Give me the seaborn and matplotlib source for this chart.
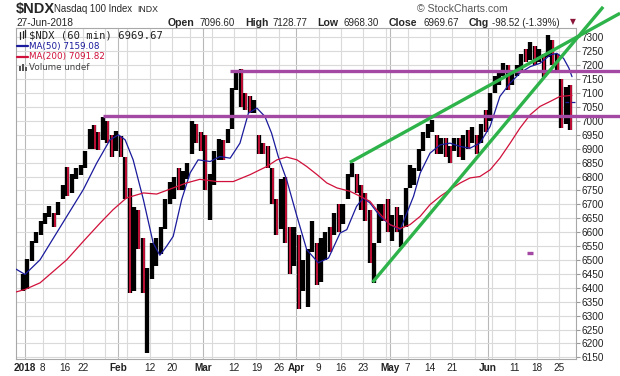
import numpy as np
import pandas as pd
import seaborn as sns
import matplotlib.pyplot as plt
from matplotlib.lines import Line2D
from matplotlib.patches import Rectangle

# ---- data (one entry per trading day, Dec 29 2017 .. Jun 27 2018) ----
holidays = ['2018-01-15', '2018-02-19', '2018-03-30', '2018-05-28']
trade_days = [pd.Timestamp('2017-12-29')] + [d for d in pd.bdate_range('2018-01-02', '2018-06-27')
                                             if d.strftime('%Y-%m-%d') not in holidays]

day_low = [
    6390,
    # Jan
    6395, 6495, 6560, 6590, 6630, 6655, 6620, 6660, 6720, 6730, 6740, 6790, 6805, 6830, 6900,
    6900, 6895, 6930, 6920, 6870, 6890,
    # Feb
    6870, 6720, 6380, 6390, 6540, 6380, 6167, 6430, 6480, 6520, 6610, 6700, 6720, 6750, 6750,
    6790, 6880, 6920, 6890,
    # Mar
    6750, 6645, 6770, 6860, 6860, 6920, 6970, 7110, 7050, 7040, 7030, 7030, 6880, 6880, 6830,
    6700, 6590, 6610, 6560, 6450, 6480,
    # Apr
    6322, 6390, 6330, 6530, 6410, 6420, 6500, 6530, 6590, 6600, 6630, 6720, 6800, 6740, 6680,
    6640, 6490, 6418, 6560, 6640, 6600,
    # May
    6570, 6600, 6548, 6620, 6760, 6770, 6820, 6890, 6940, 6960, 6880, 6880, 6870, 6850, 6890,
    6870, 6860, 6900, 6920, 6880, 6920, 6960,
    # Jun
    7000, 7100, 7130, 7160, 7110, 7130, 7160, 7180, 7210, 7220, 7200, 7210, 7158, 7230, 7200,
    7180, 6975, 6990, 6968,
]
day_high = [
    6450,
    6505, 6570, 6600, 6640, 6670, 6695, 6670, 6710, 6770, 6835, 6810, 6830, 6840, 6890, 6970,
    6985, 6960, 7015, 7000, 6950, 6965,
    6945, 6870, 6760, 6690, 6680, 6580, 6470, 6560, 6580, 6620, 6720, 6780, 6800, 6830, 6820,
    6850, 6998, 6990, 6960,
    6950, 6810, 6890, 6935, 6930, 6970, 7120, 7180, 7185, 7100, 7090, 7075, 6950, 6920, 6910,
    6830, 6720, 6790, 6800, 6620, 6620,
    6590, 6500, 6540, 6640, 6560, 6580, 6600, 6620, 6670, 6700, 6700, 6810, 6850, 6810, 6770,
    6740, 6680, 6560, 6700, 6700, 6720,
    6660, 6690, 6660, 6760, 6840, 6830, 6900, 6960, 6990, 7004, 6950, 6940, 6940, 6910, 6940,
    6940, 6950, 6968, 6979, 6950, 6990, 7040,
    7100, 7160, 7180, 7208, 7200, 7180, 7200, 7240, 7260, 7285, 7270, 7260, 7240, 7309, 7290,
    7240, 7150, 7123, 7129,
]
day_close = [
    6400,
    6500, 6565, 6585, 6635, 6665, 6680, 6650, 6705, 6765, 6745, 6805, 6815, 6835, 6885, 6955,
    6930, 6925, 7010, 6940, 6900, 6930,
    6900, 6740, 6400, 6640, 6560, 6390, 6420, 6510, 6570, 6615, 6715, 6730, 6760, 6755, 6770,
    6845, 6990, 6930, 6895,
    6770, 6800, 6880, 6920, 6910, 6960, 7115, 7150, 7070, 7050, 7045, 7050, 6905, 6900, 6860,
    6710, 6600, 6780, 6580, 6500, 6580,
    6400, 6470, 6530, 6590, 6430, 6450, 6580, 6550, 6650, 6620, 6690, 6800, 6820, 6760, 6690,
    6650, 6510, 6530, 6680, 6670, 6610,
    6650, 6610, 6640, 6750, 6800, 6810, 6890, 6955, 6970, 6975, 6900, 6930, 6900, 6870, 6920,
    6890, 6945, 6940, 6950, 6900, 6985, 6970,
    7090, 7150, 7170, 7200, 7140, 7170, 7185, 7230, 7220, 7275, 7250, 7250, 7220, 7280, 7220,
    7190, 7000, 7068, 6970,
]

# moving averages (position in trading days from Jan 2, value)
ma50_pos = [-2.0, 0, 3.4, 9.4, 13.1, 16.1, 19.1, 21, 22.5, 24.3, 26.6, 28.8, 30.3, 31.8, 33.3,
            35.2, 37.1, 38.9, 41.6, 43.8, 46.1, 48.3, 50.2, 52.1, 53.9, 55.4, 56.9, 58.8, 61.1,
            63.3, 65.9, 68.2, 70.8, 72.3, 74.5, 76, 77.5, 79.8, 82, 84.3, 85.8, 87.3, 88.8, 91,
            93.3, 95.5, 97.8, 100, 102.2, 104.5, 106.7, 109, 111.2, 113.5, 115.7, 118, 119.5,
            121, 122.2, 122.9]
ma50_val = [6467, 6448, 6501, 6657, 6753, 6848, 6932, 6950, 6932, 6860, 6717, 6561, 6517, 6549,
            6585, 6717, 6813, 6860, 6854, 6872, 6866, 6920, 7028, 7046, 7016, 6956, 6872, 6788,
            6657, 6537, 6490, 6507, 6597, 6609, 6693, 6723, 6705, 6657, 6627, 6609, 6669, 6729,
            6813, 6884, 6914, 6920, 6908, 6902, 6920, 6980, 7088, 7136, 7172, 7195, 7207, 7237,
            7243, 7225, 7190, 7159]
ma200_pos = [-2.0, 0, 3.4, 9.4, 13.1, 16.9, 19.8, 22.8, 26.6, 29.6, 33.3, 36.3, 39.3, 43.1, 46.8,
             50.6, 54.3, 56.6, 58.8, 61.1, 63.3, 65.6, 67.8, 70.1, 73, 75.3, 77.5, 79.8, 82, 84.3,
             86.5, 88.8, 91, 93.3, 95.5, 97.8, 100, 102.2, 104.5, 106.7, 109, 111.2, 113.5, 115.7,
             118, 120.2, 121.7, 122.9]
ma200_val = [6385, 6394, 6418, 6501, 6567, 6633, 6681, 6723, 6741, 6737, 6759, 6777, 6790, 6782,
             6782, 6807, 6836, 6860, 6870, 6860, 6836, 6807, 6777, 6759, 6747, 6729, 6711, 6665,
             6627, 6613, 6627, 6657, 6699, 6729, 6753, 6777, 6795, 6800, 6824, 6866, 6920, 6974,
             7022, 7052, 7070, 7088, 7090, 7092]

# hand drawn annotations (position, value)
purple_levels = [7180, 7018]
purple_start = [46.1, 17.6]
green_upper = [(73.0, 6851), (133.7, 7387)]
green_lower = [(78.1, 6420), (129.9, 7410)]
prev_close = 7068.19

# x axis labels: (trading-day index, text, month start?)
x_labels = [(0, '2018', True), (4, '8', False), (9, '16', False), (13, '22', False),
            (21, 'Feb', True), (28, '12', False), (33, '20', False), (40, 'Mar', True),
            (47, '12', False), (52, '19', False), (57, '26', False), (61, 'Apr', True),
            (66, '9', False), (71, '16', False), (76, '23', False), (82, 'May', True),
            (86, '7', False), (91, '14', False), (96, '21', False), (104, 'Jun', True),
            (110, '11', False), (115, '18', False), (120, '25', False)]
x_extra_grid = [18, 23, 37, 42, 81, 101, 105]

# ---- figure ----
sns.set_theme(style='white')
plt.rcParams['font.family'] = ['Liberation Sans', 'DejaVu Sans']

W, H = 620, 376


def fx(x):
    return x / W


def fy(y):
    return 1 - y / H


fig = plt.figure(figsize=(6.2, 3.76), dpi=100)
fig.patch.set_facecolor('white')
ax = fig.add_axes([fx(16), fy(359), fx(576) - fx(16), fy(28) - fy(359)])
ax.set_facecolor('white')

# price bars: black envelope for every day, red streak on down days
pos = np.arange(-1, len(day_low) - 1) + 0.5
down = [False] + [day_close[i] < day_close[i - 1] for i in range(1, len(day_close))]
ax.vlines(pos, day_low, day_high, colors='black', linewidth=3.1, zorder=3)
dpos = [p + 0.15 for p, d in zip(pos, down) if d]
ax.vlines(dpos, [l for l, d in zip(day_low, down) if d], [h for h, d in zip(day_high, down) if d],
          colors='#d0103a', linewidth=1.3, zorder=3)

df_ma = pd.DataFrame({'pos': ma50_pos + ma200_pos,
                      'val': ma50_val + ma200_val,
                      'ma': ['MA(50)'] * len(ma50_pos) + ['MA(200)'] * len(ma200_pos)})
sns.lineplot(data=df_ma, x='pos', y='val', hue='ma', sort=False, estimator=None,
             palette={'MA(50)': '#1a1a9c', 'MA(200)': '#d0103a'}, linewidth=0.9,
             legend=False, ax=ax, zorder=4)
ax.plot([121.3, 124], [prev_close, prev_close], color='#1a1a9c', lw=0.9, ls=(0, (3, 2)), zorder=4)

# annotations
for lvl, st in zip(purple_levels, purple_start):
    ax.plot([st, 133.7], [lvl, lvl], color='#a349a4', lw=2.4, clip_on=False, zorder=5,
            solid_capstyle='butt')
ax.plot([112.8, 114.2], [6526, 6526], color='#a349a4', lw=2.4, zorder=5, solid_capstyle='butt')
for seg in (green_upper, green_lower):
    ax.plot([seg[0][0], seg[1][0]], [seg[0][1], seg[1][1]], color='#2db34a', lw=2.4,
            clip_on=False, zorder=6, solid_capstyle='butt')

# axes, grid
ax.set_xlim(-2.02, 123.8)
ax.set_ylim(6144, 7334)
ax.set_xlabel('')
ax.set_ylabel('')
ax.yaxis.tick_right()
ax.set_yticks(np.arange(6150, 7301, 50))
ax.tick_params(axis='y', length=3, width=0.8, color='#9a9a9a', labelsize=7.2, pad=1,
               labelcolor='#222222', right=True, left=False)
ax.grid(axis='y', color='#dadada', lw=0.8)
for p in x_extra_grid:
    ax.axvline(p, color='#dadada', lw=0.8, zorder=0)
for p, t, m in x_labels:
    ax.axvline(p, color='#b8b8b8' if m else '#dadada', lw=0.8, zorder=0)
ax.set_xticks([p for p, t, m in x_labels])
ax.set_xticklabels([t for p, t, m in x_labels])
for lab, (p, t, m) in zip(ax.get_xticklabels(), x_labels):
    if m:
        lab.set_fontweight('bold')
ax.tick_params(axis='x', length=0, labelsize=7.2, pad=3, labelcolor='#222222')
for s in ax.spines.values():
    s.set_color('#a8a8a8')
    s.set_linewidth(0.8)

# ---- header text ----
fig.text(fx(16), fy(8.5), '$NDX', fontsize=10.5, fontweight='bold', va='center', ha='left')
fig.text(fx(54), fy(9), 'Nasdaq 100 Index', fontsize=6.9, va='center', ha='left')
fig.text(fx(137), fy(9), 'INDX', fontsize=6.3, va='center', ha='left')
fig.text(fx(16), fy(22.5), '27-Jun-2018', fontsize=7.3, va='center', ha='left')
hdr = [(168, 'Open', True), (199, '7096.60', False), (245, 'High', True), (272, '7128.77', False),
       (317, 'Low', True), (344, '6968.30', False), (389, 'Close', True), (423, '6969.67', False),
       (469, 'Chg', True), (492, '-98.52 (-1.39%)', False)]
for x, t, b in hdr:
    fig.text(fx(x), fy(22.5), t, fontsize=7.6 if b else 7.0, fontweight='bold' if b else 'normal',
             va='center', ha='left')
fig.text(fx(570), fy(22), '\u25bc', fontsize=5.5, color='#8b1538', va='center', ha='left',
         family='DejaVu Sans')
fig.text(fx(417), fy(9), '\u00a9 StockCharts.com', fontsize=7.6, color='#555555',
         va='center', ha='left')

# ---- legend inside plot ----
fig.text(fx(29.5), fy(35), '$NDX (60 min) 6969.67', fontsize=7.6, va='center', ha='left',
         family='DejaVu Sans Mono', color='#222222')
for i, xx in enumerate([20, 22.5, 25]):
    fig.add_artist(Line2D([fx(xx), fx(xx)], [fy(38.5 - i), fy(32 - i)], color='#222222', lw=0.9))
fig.add_artist(Line2D([fx(17), fx(28)], [fy(46), fy(46)], color='#1a1a9c', lw=1.6))
fig.text(fx(29.5), fy(46), 'MA(50) 7159.08', fontsize=6.3, va='center', ha='left',
         color='#1a1a9c', family='DejaVu Sans')
fig.add_artist(Line2D([fx(17), fx(28)], [fy(57), fy(57)], color='#d0103a', lw=1.6))
fig.text(fx(29.5), fy(57), 'MA(200) 7091.82', fontsize=6.3, va='center', ha='left',
         color='#d0103a', family='DejaVu Sans')
for xx, hh in [(19, 5), (22, 7), (25, 4)]:
    fig.add_artist(Rectangle((fx(xx), fy(71)), fx(2), hh / H, color='#555555', lw=0))
fig.text(fx(29.5), fy(68), 'Volume undef', fontsize=6.3, va='center', ha='left',
         color='#444444', family='DejaVu Sans')

fig.savefig('out.png', dpi=100, facecolor='white')
